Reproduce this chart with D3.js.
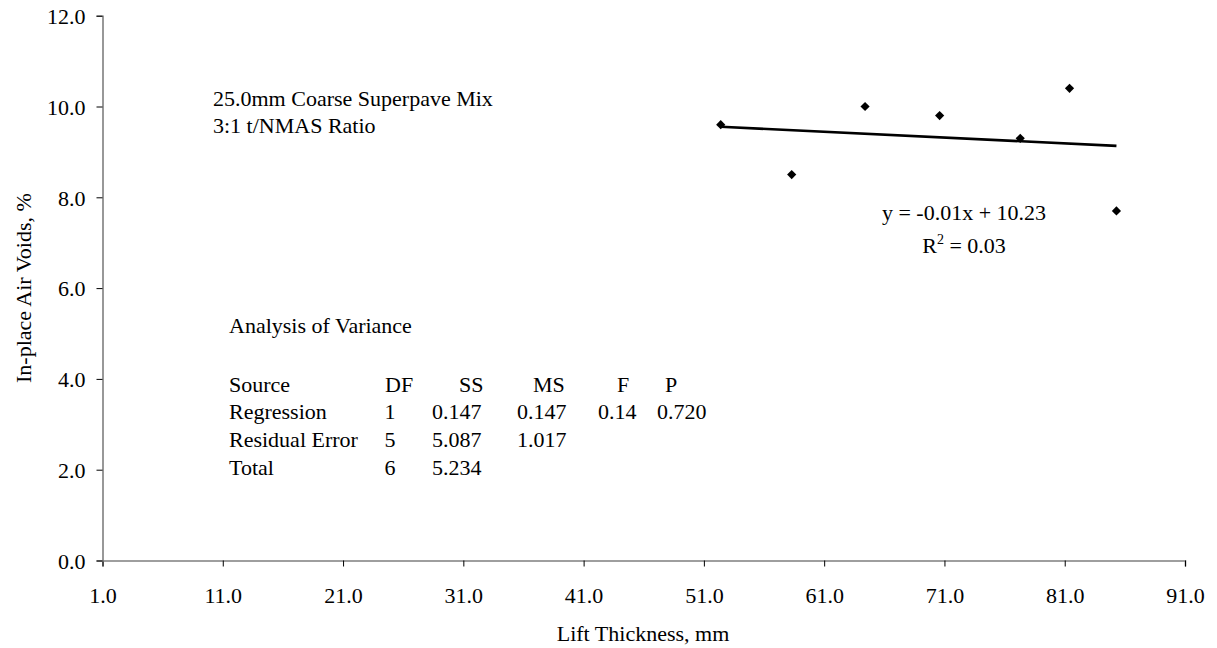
<!DOCTYPE html>
<html>
<head>
<meta charset="utf-8">
<script src="https://cdn.jsdelivr.net/npm/d3@7"></script>
<style>
  html, body { margin: 0; padding: 0; background: #fff; }
  svg { display: block; }
  text { font-family: "Liberation Serif", "Times New Roman", serif; fill: #000; }
</style>
</head>
<body>
<svg id="chart" width="1217" height="648"></svg>
<script>
// Lift thickness (mm) and in-place air voids (%) for each test section
const liftThickness = [52.4, 58.3, 64.4, 70.6, 77.3, 81.4, 85.3];
const airVoids      = [9.6, 8.5, 10.0, 9.8, 9.3, 10.4, 7.7];

// Axis tick values
const xTicks = [1, 11, 21, 31, 41, 51, 61, 71, 81, 91];
const yTicks = [0, 2, 4, 6, 8, 10, 12];

// Annotation text
const mixLines = ["25.0mm Coarse Superpave Mix", "3:1 t/NMAS Ratio"];
const eqLabel = "y = -0.01x + 10.23";
const r2Value = "0.03";

// Analysis of variance table
const anovaTitle  = "Analysis of Variance";
const anovaHeader = ["Source", "DF", "SS", "MS", "F", "P"];
const anovaRows = [
  ["Regression", "1", "0.147", "0.147", "0.14", "0.720"],
  ["Residual Error", "5", "5.087", "1.017", "", ""],
  ["Total", "6", "5.234", "", "", ""]
];

const svg = d3.select("#chart");
const fs = 22;

const x = d3.scaleLinear().domain([1, 91]).range([102.5, 1185]);
const y = d3.scaleLinear().domain([0, 12]).range([560.5, 15.7]);

// Axes
const xAxis = d3.axisBottom(x).tickValues(xTicks).tickSizeOuter(0).tickSize(6)
  .tickFormat(d3.format(".1f"));
const yAxis = d3.axisLeft(y).tickValues(yTicks).tickSizeOuter(0).tickSize(6)
  .tickFormat(d3.format(".1f"));

const gx = svg.append("g").attr("transform", `translate(0,${y(0)})`).call(xAxis);
const gy = svg.append("g").attr("transform", `translate(${x(1)},0)`).call(yAxis);

[gx, gy].forEach(g => {
  g.select(".domain").attr("stroke", "#7f7f7f").attr("stroke-width", 1.6);
  g.selectAll(".tick line").attr("stroke", "#000").attr("stroke-width", 1);
  g.selectAll(".tick text")
    .attr("font-family", "'Liberation Serif', 'Times New Roman', serif")
    .attr("font-size", fs).attr("fill", "#000");
});
gx.selectAll(".tick text").attr("y", 42).attr("dy", 0);
gy.selectAll(".tick text").attr("x", -17).attr("dy", "0.35em");

// Axis titles
svg.append("text")
  .attr("x", 643).attr("y", 641)
  .attr("text-anchor", "middle").attr("font-size", fs)
  .text("Lift Thickness, mm");

svg.append("text")
  .attr("transform", `translate(31,${(y(0) + y(12)) / 2}) rotate(-90)`)
  .attr("text-anchor", "middle").attr("font-size", fs)
  .text("In-place Air Voids, %");

// Least-squares trend line through the points
const mx = d3.mean(liftThickness), my = d3.mean(airVoids);
let sxy = 0, sxx = 0;
liftThickness.forEach((v, i) => {
  sxy += (v - mx) * (airVoids[i] - my);
  sxx += (v - mx) * (v - mx);
});
const slope = sxy / sxx;
const intercept = my - slope * mx;
const [x0, x1] = d3.extent(liftThickness);

svg.append("line")
  .attr("x1", x(x0)).attr("y1", y(slope * x0 + intercept))
  .attr("x2", x(x1)).attr("y2", y(slope * x1 + intercept))
  .attr("stroke", "#000").attr("stroke-width", 2.6);

// Diamond markers
const r = 4.6;
svg.append("g").selectAll("path")
  .data(liftThickness.map((v, i) => [v, airVoids[i]]))
  .join("path")
  .attr("d", d => {
    const cx = x(d[0]), cy = y(d[1]);
    return `M${cx},${cy - r}L${cx + r},${cy}L${cx},${cy + r}L${cx - r},${cy}Z`;
  })
  .attr("fill", "#000");

// Mix description
svg.append("g").selectAll("text")
  .data(mixLines).join("text")
  .attr("x", 213).attr("y", (d, i) => 106 + i * 27)
  .attr("font-size", fs).text(d => d);

// Regression equation
svg.append("text").attr("x", 964).attr("y", 220)
  .attr("text-anchor", "middle").attr("font-size", fs).text(eqLabel);
const r2 = svg.append("text").attr("x", 964).attr("y", 253)
  .attr("text-anchor", "middle").attr("font-size", fs);
r2.append("tspan").text("R");
r2.append("tspan").attr("font-size", 14).attr("dy", -9).text("2");
r2.append("tspan").attr("dy", 9).text(" = " + r2Value);

// ANOVA table
svg.append("text").attr("x", 229).attr("y", 333)
  .attr("font-size", fs).text(anovaTitle);

const headerX = [229, 385, 459, 533, 617, 665];
svg.append("g").selectAll("text")
  .data(anovaHeader).join("text")
  .attr("x", (d, i) => headerX[i]).attr("y", 392)
  .attr("font-size", fs).text(d => d);

const colX = [229, 390, 432, 517, 598, 657];
const colAnchor = ["start", "middle", "start", "start", "start", "start"];
anovaRows.forEach((row, ri) => {
  svg.append("g").selectAll("text")
    .data(row).join("text")
    .attr("x", (d, i) => colX[i])
    .attr("y", 419 + ri * 28)
    .attr("text-anchor", (d, i) => colAnchor[i])
    .attr("font-size", fs).text(d => d);
});
</script>
</body>
</html>
